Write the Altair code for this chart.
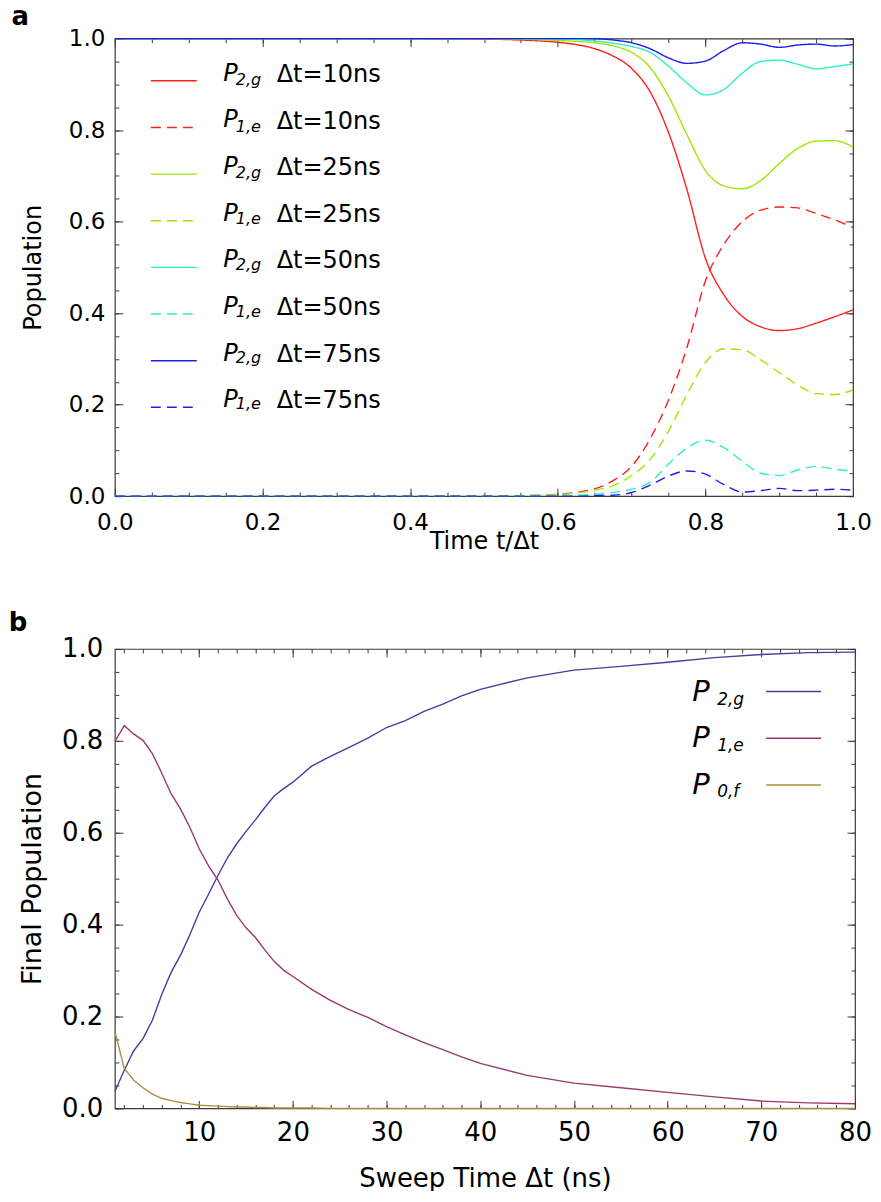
import altair as alt
import pandas as pd

# ---------------- data: panel a (population vs t/Δt) ----------------
t_frac = [0.0, 0.1, 0.2, 0.3, 0.4, 0.5, 0.55, 0.6, 0.625, 0.65, 0.675, 0.7,
          0.725, 0.75, 0.775, 0.8, 0.825, 0.85, 0.875, 0.9, 0.925, 0.95, 0.975, 1.0]
p2g_10 = [1.0, 1.0, 1.0, 1.0, 1.0, 0.999, 0.997, 0.992, 0.987, 0.978, 0.962, 0.935,
          0.884, 0.795, 0.67, 0.52, 0.44, 0.393, 0.370, 0.362, 0.366, 0.378, 0.392, 0.407]
p1e_10 = [0.0, 0.0, 0.0, 0.0, 0.0, 0.0, 0.001, 0.004, 0.008, 0.016, 0.034, 0.065,
          0.125, 0.21, 0.325, 0.47, 0.55, 0.60, 0.625, 0.632, 0.630, 0.618, 0.604, 0.587]
p2g_25 = [1.0, 1.0, 1.0, 1.0, 1.0, 1.0, 0.999, 0.996, 0.994, 0.991, 0.984, 0.970,
          0.937, 0.874, 0.790, 0.712, 0.678, 0.672, 0.690, 0.727, 0.760, 0.776, 0.777, 0.763]
p1e_25 = [0.0, 0.0, 0.0, 0.0, 0.0, 0.0, 0.001, 0.003, 0.007, 0.013, 0.023, 0.045,
          0.080, 0.142, 0.222, 0.292, 0.322, 0.320, 0.298, 0.270, 0.243, 0.224, 0.222, 0.232]
p2g_50 = [1.0, 1.0, 1.0, 1.0, 1.0, 1.0, 1.0, 0.999, 0.998, 0.995, 0.990, 0.983,
          0.970, 0.940, 0.903, 0.877, 0.889, 0.925, 0.950, 0.953, 0.944, 0.934, 0.939, 0.945]
p1e_50 = [0.0, 0.0, 0.0, 0.0, 0.0, 0.0, 0.0, 0.001, 0.002, 0.004, 0.008, 0.015,
          0.030, 0.070, 0.105, 0.122, 0.106, 0.076, 0.050, 0.045, 0.057, 0.065, 0.059, 0.054]
p2g_75 = [1.0, 1.0, 1.0, 1.0, 1.0, 1.0, 1.0, 1.0, 1.0, 1.0, 0.997, 0.991,
          0.978, 0.958, 0.946, 0.951, 0.974, 0.991, 0.988, 0.981, 0.986, 0.988, 0.984, 0.987]
p1e_75 = [0.0, 0.0, 0.0, 0.0, 0.0, 0.0, 0.0, 0.0, 0.0, 0.001, 0.002, 0.008,
          0.024, 0.044, 0.055, 0.048, 0.025, 0.009, 0.012, 0.017, 0.012, 0.013, 0.015, 0.013]

series_a = ["P2g_10", "P1e_10", "P2g_25", "P1e_25", "P2g_50", "P1e_50", "P2g_75", "P1e_75"]
values_a = [p2g_10, p1e_10, p2g_25, p1e_25, p2g_50, p1e_50, p2g_75, p1e_75]
subs_a = ["2,g", "1,e", "2,g", "1,e", "2,g", "1,e", "2,g", "1,e"]
dts_a = ["Δt=10ns", "Δt=10ns", "Δt=25ns", "Δt=25ns", "Δt=50ns", "Δt=50ns", "Δt=75ns", "Δt=75ns"]
colors_a = ["#ff1f1f", "#ff1f1f", "#9ee800", "#9ee800", "#2ef0c0", "#2ef0c0", "#1c1cf0", "#1c1cf0"]
dashes_a = [[1, 0], [10, 6], [1, 0], [10, 6], [1, 0], [10, 6], [1, 0], [10, 6]]

# ---------------- data: panel b (final population vs sweep time) ----------------
dt_ns = list(range(1, 21)) + list(range(22, 41, 2)) + list(range(45, 81, 5))
final_p2g = [0.037, 0.083, 0.125, 0.152, 0.192, 0.248, 0.296, 0.333, 0.378, 0.427,
             0.466, 0.507, 0.545, 0.576, 0.603, 0.628, 0.655, 0.680, 0.696, 0.710,
             0.745, 0.766, 0.786, 0.806, 0.829, 0.844, 0.864, 0.880, 0.898, 0.912,
             0.937, 0.954, 0.962, 0.971, 0.981, 0.988, 0.992, 0.993]
final_p1e = [0.799, 0.833, 0.815, 0.801, 0.772, 0.730, 0.685, 0.652, 0.612, 0.565,
             0.528, 0.497, 0.456, 0.420, 0.393, 0.372, 0.345, 0.320, 0.301, 0.287,
             0.259, 0.235, 0.215, 0.198, 0.178, 0.160, 0.143, 0.128, 0.112, 0.098,
             0.072, 0.055, 0.045, 0.035, 0.025, 0.016, 0.012, 0.010]
final_p0f = [0.168, 0.087, 0.062, 0.045, 0.031, 0.022, 0.017, 0.013, 0.010, 0.007,
             0.006, 0.005, 0.004, 0.003, 0.003, 0.002, 0.002, 0.001, 0.001, 0.001,
             0.001, 0.0, 0.0, 0.0, 0.0, 0.0, 0.0, 0.0, 0.0, 0.0,
             0.0, 0.0, 0.0, 0.0, 0.0, 0.0, 0.0, 0.0]
series_b = ["P2g", "P1e", "P0f"]
values_b = [final_p2g, final_p1e, final_p0f]
subs_b = ["2,g", "1,e", "0,f"]
colors_b = ["#4040a0", "#993872", "#a6913f"]

# ---------------- styling ----------------
FONT = "DejaVu Sans"
FRAME = "#3a3a3a"

rows_a = []
for i, (key, vals) in enumerate(zip(series_a, values_a)):
    for t, v in zip(t_frac, vals):
        rows_a.append({"t": t, "p": v, "series": key,
                       "sub": f"{i}|{subs_a[i]}", "dt": f"{i}|{dts_a[i]}"})
df_a = pd.DataFrame(rows_a)
sub_dom_a = [f"{i}|{s}" for i, s in enumerate(subs_a)]
dt_dom_a = [f"{i}|{s}" for i, s in enumerate(dts_a)]

rows_b = []
for i, (key, vals) in enumerate(zip(series_b, values_b)):
    for d, v in zip(dt_ns, vals):
        rows_b.append({"d": d, "p": v, "series": key,
                       "pl": f"{i}|P", "sub": f"{i}|{subs_b[i]}"})
df_b = pd.DataFrame(rows_b)
pl_dom_b = [f"{i}|P" for i in range(3)]
sub_dom_b = [f"{i}|{s}" for i, s in enumerate(subs_b)]


def tick_axis(orient, values, size, **kw):
    base = dict(orient=orient, values=values, tickSize=size, offset=-size,
                domain=False, grid=False, ticks=True, tickColor=FRAME, tickWidth=1)
    if "labels" not in kw:
        base.update(labels=False, title=None)
    base.update(kw)
    return alt.Axis(**base)


def framed(main, df, xf, yf, xs, ys, xmaj, xmin, ymaj, ymin):
    def deco(xa, ya):
        return alt.Chart(df).mark_point(opacity=0, size=1).encode(
            x=alt.X(xf, scale=xs, axis=xa), y=alt.Y(yf, scale=ys, axis=ya))
    return alt.layer(
        main,
        deco(tick_axis("bottom", xmin, 4), tick_axis("left", ymin, 4)),
        deco(tick_axis("top", xmaj, 8), tick_axis("right", ymaj, 8)),
        deco(tick_axis("top", xmin, 4), tick_axis("right", ymin, 4)),
    ).resolve_axis(x="independent", y="independent")


y_major = [0.0, 0.2, 0.4, 0.6, 0.8, 1.0]
y_minor = [round(0.05 * k, 2) for k in range(21)]

# ---------------- panel a ----------------
xs_a = alt.Scale(domain=[0, 1], nice=False, zero=False)
ys = alt.Scale(domain=[0, 1], nice=False)
x_major_a = [0.0, 0.2, 0.4, 0.6, 0.8, 1.0]
x_minor_a = [round(0.05 * k, 2) for k in range(21)]

legA = alt.Legend(title=None, orient="none", legendX=35, legendY=18.2, padding=0,
                  symbolType="stroke", symbolSize=2116, symbolStrokeWidth=1.4,
                  labelExpr="'P'", labelFont=FONT, labelFontSize=24, labelFontStyle="italic",
                  labelColor="black", labelOffset=25.5, labelBaseline="alphabetic", rowPadding=17.7)
legB = alt.Legend(title=None, orient="none", legendX=105, legendY=38.9, padding=0,
                  symbolSize=0, symbolStrokeWidth=0,
                  labelExpr="substring(datum.label, 2)", labelFont=FONT, labelFontSize=16,
                  labelFontStyle="italic", labelColor="black", labelOffset=0,
                  labelBaseline="alphabetic", rowPadding=30.3)
legC = alt.Legend(title=None, orient="none", legendX=138, legendY=31.3, padding=0,
                  symbolSize=0, symbolStrokeWidth=0,
                  labelExpr="substring(datum.label, 2)", labelFont=FONT, labelFontSize=24,
                  labelFontStyle="normal",
                  labelColor="black", labelOffset=0, labelBaseline="alphabetic", rowPadding=22.7)

lines_a = alt.Chart(df_a).mark_line(interpolate="monotone").encode(
    x=alt.X("t:Q", scale=xs_a,
            axis=tick_axis("bottom", x_major_a, 8, labels=True, format=".1f",
                           title="Time t/Δt", labelFont=FONT, labelFontSize=23,
                           labelColor="black", labelPadding=15, labelFlush=False,
                           labelOverlap=False, titleFont=FONT, titleFontSize=24,
                           titleFontWeight="normal", titleColor="black", titlePadding=-4.6)),
    y=alt.Y("p:Q", scale=ys,
            axis=tick_axis("left", y_major, 8, labels=True, format=".1f",
                           title="Population", labelFont=FONT, labelFontSize=23,
                           labelColor="black", labelPadding=10, labelFlush=False,
                           labelOverlap=False, titleFont=FONT, titleFontSize=24,
                           titleFontWeight="normal", titleColor="black", titlePadding=23)),
    color=alt.Color("series:N", scale=alt.Scale(domain=series_a, range=colors_a), legend=legA),
    strokeDash=alt.StrokeDash("series:N", scale=alt.Scale(domain=series_a, range=dashes_a), legend=legA),
    opacity=alt.Opacity("sub:O", scale=alt.Scale(domain=sub_dom_a, range=[1, 1]), legend=legB),
    strokeWidth=alt.StrokeWidth("dt:O", scale=alt.Scale(domain=dt_dom_a, range=[1.4, 1.4]), legend=legC),
)

panel_a = framed(lines_a, df_a, "t:Q", "p:Q", xs_a, ys, x_major_a, x_minor_a, y_major, y_minor).properties(
    width=739, height=458,
    title=alt.TitleParams("a", anchor="start", font=FONT, fontSize=26, fontWeight="bold",
                          color="black", dx=-10, offset=-2.7))

# ---------------- panel b ----------------
xs_b = alt.Scale(domain=[1, 80], nice=False, zero=False)
x_major_b = [10, 20, 30, 40, 50, 60, 70, 80]
x_minor_b = list(range(2, 81, 2))

legA_b = alt.Legend(title=None, orient="none", legendX=651, legendY=14.2, padding=0,
                    symbolType="stroke", symbolSize=3025, symbolStrokeWidth=1.5,
                    labelExpr="''", labelFont=FONT, labelFontSize=24,
                    labelBaseline="alphabetic", rowPadding=12.7)
legB_b = alt.Legend(title=None, orient="none", legendX=549, legendY=37.2, padding=0,
                    symbolSize=0, symbolStrokeWidth=0,
                    labelExpr="substring(datum.label, 2)", labelFont=FONT, labelFontSize=29,
                    labelFontStyle="italic", labelColor="black", labelOffset=0,
                    labelBaseline="alphabetic", rowPadding=16.8)
legC_b = alt.Legend(title=None, orient="none", legendX=586, legendY=47.3, padding=0,
                    symbolSize=0, symbolStrokeWidth=0,
                    labelExpr="substring(datum.label, 2)", labelFont=FONT, labelFontSize=17,
                    labelFontStyle="italic", labelColor="black", labelOffset=0,
                    labelBaseline="alphabetic", rowPadding=28)

lines_b = alt.Chart(df_b).mark_line().encode(
    x=alt.X("d:Q", scale=xs_b,
            axis=tick_axis("bottom", x_major_b, 8, labels=True, format="d",
                           title="Sweep Time Δt (ns)", labelFont=FONT, labelFontSize=26,
                           labelColor="black", labelPadding=11, labelFlush=False,
                           labelOverlap=False, titleFont=FONT, titleFontSize=26,
                           titleFontWeight="normal", titleColor="black", titlePadding=20)),
    y=alt.Y("p:Q", scale=ys,
            axis=tick_axis("left", y_major, 8, labels=True, format=".1f",
                           title="Final Population", labelFont=FONT, labelFontSize=26,
                           labelColor="black", labelPadding=12, labelFlush=False,
                           labelOverlap=False, titleFont=FONT, titleFontSize=27,
                           titleFontWeight="normal", titleColor="black", titlePadding=15)),
    color=alt.Color("series:N", scale=alt.Scale(domain=series_b, range=colors_b), legend=legA_b),
    opacity=alt.Opacity("pl:O", scale=alt.Scale(domain=pl_dom_b, range=[1, 1]), legend=legB_b),
    strokeWidth=alt.StrokeWidth("sub:O", scale=alt.Scale(domain=sub_dom_b, range=[1.4, 1.4]), legend=legC_b),
)

panel_b = framed(lines_b, df_b, "d:Q", "p:Q", xs_b, ys, x_major_b, x_minor_b, y_major, y_minor).properties(
    width=741, height=460,
    title=alt.TitleParams("b", anchor="start", font=FONT, fontSize=26, fontWeight="bold",
                          color="black", dx=-10, offset=0.2))

chart = alt.vconcat(panel_a, panel_b, spacing=55).resolve_scale(
    color="independent", strokeDash="independent", opacity="independent", strokeWidth="independent"
).resolve_legend(
    color="independent", strokeDash="independent", opacity="independent", strokeWidth="independent"
).properties(
    padding={"left": 0, "top": -5, "right": 0, "bottom": -2}
).configure_view(stroke=FRAME, strokeWidth=1.2)

chart.save("out.html", embed_options={"renderer": "svg", "actions": False})
